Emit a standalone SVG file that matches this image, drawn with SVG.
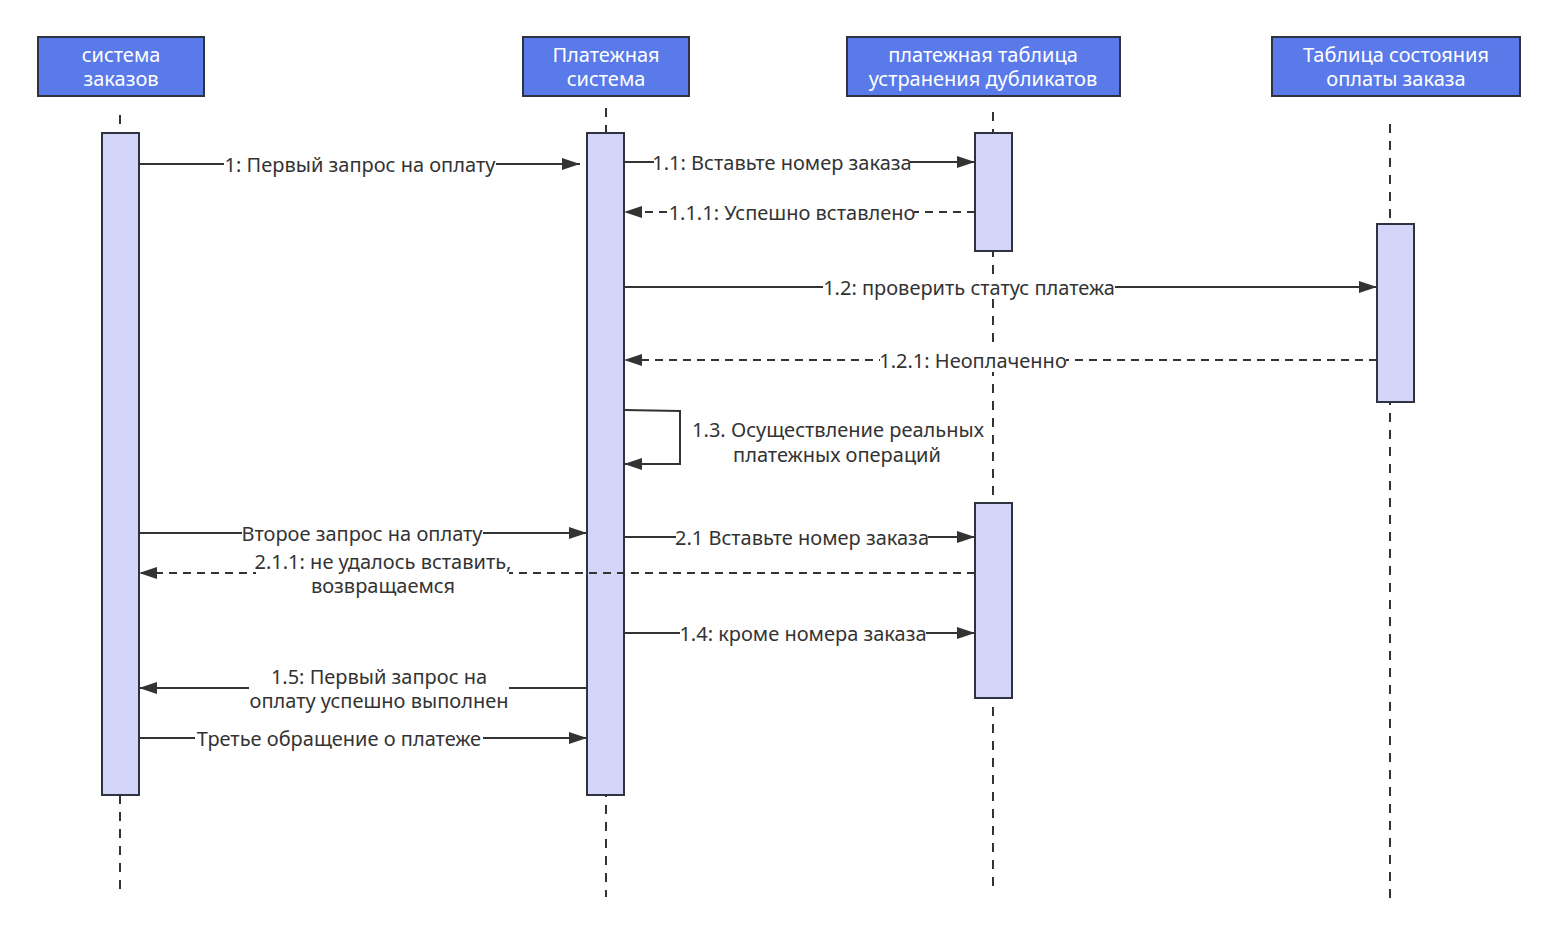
<svg xmlns="http://www.w3.org/2000/svg" width="1557" height="940" viewBox="0 0 1557 940">
<style>
.hdr{fill:#5a7ae9;stroke:#2d3340;stroke-width:2}
.ht{font-family:"Noto Sans","Open Sans",sans-serif;font-size:20px;fill:#fff;text-anchor:middle}
.life{stroke:#333;stroke-width:2;stroke-dasharray:9,8;fill:none}
.act{fill:#d3d6f8;stroke:#2d3340;stroke-width:2}
.msg{stroke:#333;stroke-width:2;fill:none}
.dash{stroke-dasharray:8,6}
.lt{font-family:"Noto Sans","Open Sans",sans-serif;font-size:20px;fill:#333;text-anchor:middle}
.bg{fill:#fff}
</style>
<defs>
<marker id="ah" viewBox="0 0 18 12" refX="18" refY="6" markerWidth="18" markerHeight="12" markerUnits="userSpaceOnUse" orient="auto">
<path d="M0,0 L18,6 L0,12 Z" fill="#333"/>
</marker>
</defs>
<rect width="1557" height="940" fill="#fff"/>

<g id="lifelines">
<line class="life" x1="120" y1="115" x2="120" y2="896"/>
<line class="life" x1="606" y1="108" x2="606" y2="897"/>
<line class="life" x1="993" y1="112" x2="993" y2="891"/>
<line class="life" x1="1390" y1="124" x2="1390" y2="902"/>
</g>

<g id="order-system">
<rect class="hdr" x="38" y="37" width="166" height="59"/>
<text class="ht" x="121" y="62">система</text>
<text class="ht" x="121" y="86">заказов</text>
</g>
<g id="payment-system">
<rect class="hdr" x="523" y="37" width="166" height="59"/>
<text class="ht" x="606" y="62">Платежная</text>
<text class="ht" x="606" y="86">система</text>
</g>
<g id="dedup-table">
<rect class="hdr" x="847" y="37" width="273" height="59"/>
<text class="ht" x="983" y="62">платежная таблица</text>
<text class="ht" x="983" y="86">устранения дубликатов</text>
</g>
<g id="status-table">
<rect class="hdr" x="1272" y="37" width="248" height="59"/>
<text class="ht" x="1396" y="62">Таблица состояния</text>
<text class="ht" x="1396" y="86">оплаты заказа</text>
</g>

<g id="activations">
<rect class="act" x="102" y="133" width="37" height="662"/>
<rect class="act" x="587" y="133" width="37" height="662"/>
<rect class="act" x="975" y="133" width="37" height="118"/>
<rect class="act" x="1377" y="224" width="37" height="178"/>
<rect class="act" x="975" y="503" width="37" height="195"/>
</g>

<g id="connectors">
<line class="msg" x1="139" y1="164" x2="580" y2="164" marker-end="url(#ah)"/>
<line class="msg" x1="624" y1="162" x2="975" y2="162" marker-end="url(#ah)"/>
<line class="msg dash" x1="975" y1="212" x2="624" y2="212" marker-end="url(#ah)"/>
<line class="msg" x1="624" y1="287" x2="1377" y2="287" marker-end="url(#ah)"/>
<line class="msg dash" x1="1377" y1="360" x2="624" y2="360" marker-end="url(#ah)"/>
<polyline class="msg" points="624,410 680,411 680,464 624,464" marker-end="url(#ah)"/>
<line class="msg" x1="139" y1="533" x2="587" y2="533" marker-end="url(#ah)"/>
<line class="msg" x1="624" y1="537" x2="975" y2="537" marker-end="url(#ah)"/>
<line class="msg dash" x1="975" y1="573" x2="139" y2="573" marker-end="url(#ah)"/>
<line class="msg" x1="624" y1="633" x2="975" y2="633" marker-end="url(#ah)"/>
<line class="msg" x1="587" y1="688" x2="139" y2="688" marker-end="url(#ah)"/>
<line class="msg" x1="139" y1="738" x2="587" y2="738" marker-end="url(#ah)"/>
</g>

<g id="labels">
<rect class="bg" x="224" y="154" width="272" height="22"/>
<text class="lt" x="360" y="172">1: Первый запрос на оплату</text>
<rect class="bg" x="654" y="152" width="256" height="22"/>
<text class="lt" x="782" y="170">1.1: Вставьте номер заказа</text>
<rect class="bg" x="670" y="202" width="244" height="22"/>
<text class="lt" x="792" y="220">1.1.1: Успешно вставлено</text>
<rect class="bg" x="823" y="277" width="292" height="22"/>
<text class="lt" x="969" y="295">1.2: проверить статус платежа</text>
<rect class="bg" x="880" y="350" width="186" height="22"/>
<text class="lt" x="973" y="368">1.2.1: Неоплаченно</text>
<text class="lt" x="838" y="437">1.3. Осуществление реальных</text>
<text class="lt" x="837" y="462">платежных операций</text>
<rect class="bg" x="242" y="523" width="241" height="22"/>
<text class="lt" x="362" y="541">Второе запрос на оплату</text>
<rect class="bg" x="676" y="527" width="252" height="22"/>
<text class="lt" x="802" y="545">2.1 Вставьте номер заказа</text>
<rect class="bg" x="256" y="552" width="253" height="46"/>
<text class="lt" x="383" y="569">2.1.1: не удалось вставить,</text>
<text class="lt" x="383" y="593">возвращаемся</text>
<rect class="bg" x="680" y="623" width="246" height="22"/>
<text class="lt" x="803" y="641">1.4: кроме номера заказа</text>
<rect class="bg" x="249" y="667" width="260" height="46"/>
<text class="lt" x="379" y="684">1.5: Первый запрос на</text>
<text class="lt" x="379" y="708">оплату успешно выполнен</text>
<rect class="bg" x="195" y="728" width="288" height="22"/>
<text class="lt" x="339" y="746">Третье обращение о платеже</text>
</g>
</svg>
